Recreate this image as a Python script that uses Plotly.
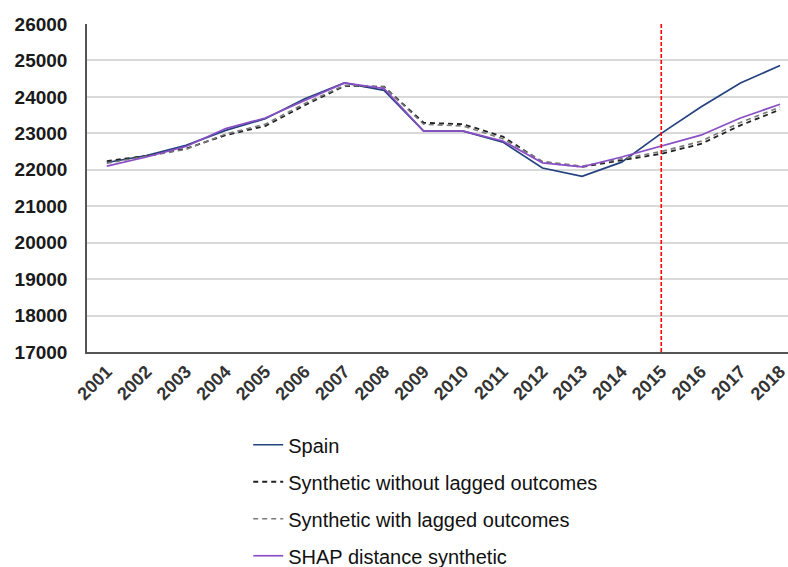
import plotly.graph_objects as go

years = [str(y) for y in range(2001, 2019)]

spain = [22200, 22390, 22670, 23080, 23400, 23950, 24385, 24180, 23060, 23060,
         22760, 22050, 21820, 22210, 23000, 23720, 24380, 24860]
synth_no_lag = [22240, 22380, 22580, 22950, 23200, 23770, 24300, 24280, 23290, 23250,
                22910, 22210, 22080, 22260, 22440, 22710, 23220, 23650]
synth_lag = [22180, 22360, 22560, 22980, 23250, 23820, 24320, 24270, 23250, 23200,
             22850, 22230, 22100, 22300, 22500, 22780, 23300, 23720]
shap_synth = [22100, 22350, 22640, 23130, 23420, 23900, 24385, 24230, 23060, 23060,
              22790, 22190, 22080, 22350, 22650, 22950, 23420, 23800]

treatment_year = "2015"

fig = go.Figure()

fig.add_trace(go.Scatter(x=years, y=spain, mode="lines", name="Spain",
                         line=dict(color="#24427f", width=1.7), legendgroup="a"))
fig.add_trace(go.Scatter(x=years, y=synth_no_lag, mode="lines",
                         name="Synthetic without lagged outcomes",
                         line=dict(color="#222222", width=1.8, dash="5px,4px"),
                         legendgroup="b"))
fig.add_trace(go.Scatter(x=years, y=synth_lag, mode="lines",
                         name="Synthetic with lagged outcomes",
                         line=dict(color="#7a7a7a", width=1.6, dash="5px,4px"),
                         legendgroup="c"))
fig.add_trace(go.Scatter(x=years, y=shap_synth, mode="lines",
                         name="SHAP distance synthetic",
                         line=dict(color="#8a4fc7", width=1.7), legendgroup="d"))

# vertical marker at the treatment year (category index on the x axis)
tx = years.index(treatment_year)
fig.add_shape(type="line", xref="x", yref="paper", x0=tx, x1=tx,
              y0=0, y1=1, line=dict(color="#ff0000", width=1.6, dash="4px,2px"))

fig.update_layout(
    width=788, height=567,
    margin=dict(l=87, r=0, t=24, b=215, autoexpand=False),
    plot_bgcolor="white", paper_bgcolor="white",
    font=dict(family="Liberation Sans, Arial, sans-serif", color="#222222"),
    xaxis=dict(
        type="category", range=[-0.5, 17.2],
        showgrid=False, showline=True, linecolor="#555555", linewidth=2,
        tickangle=-45, ticks="",
        tickfont=dict(size=18, family="Liberation Sans, Arial, sans-serif",
                      color="#333333", weight="bold"),
    ),
    yaxis=dict(
        range=[17000, 26000], dtick=1000, tickformat="d",
        showgrid=True, gridcolor="#d9d9d9", gridwidth=1.5,
        showline=True, linecolor="#555555", linewidth=1.5,
        ticks="", ticklabelstandoff=14,
        tickfont=dict(size=19, family="Liberation Sans, Arial, sans-serif",
                      color="#1a1a1a", weight="bold"),
        zeroline=False,
    ),
    legend=dict(
        xref="container", yref="container",
        x=0.315, y=0.25, xanchor="left", yanchor="top",
        traceorder="grouped", tracegroupgap=8,
        font=dict(size=20, color="#111111"),
        bgcolor="rgba(0,0,0,0)",
    ),
    showlegend=True,
)

fig.write_html("out.html")
